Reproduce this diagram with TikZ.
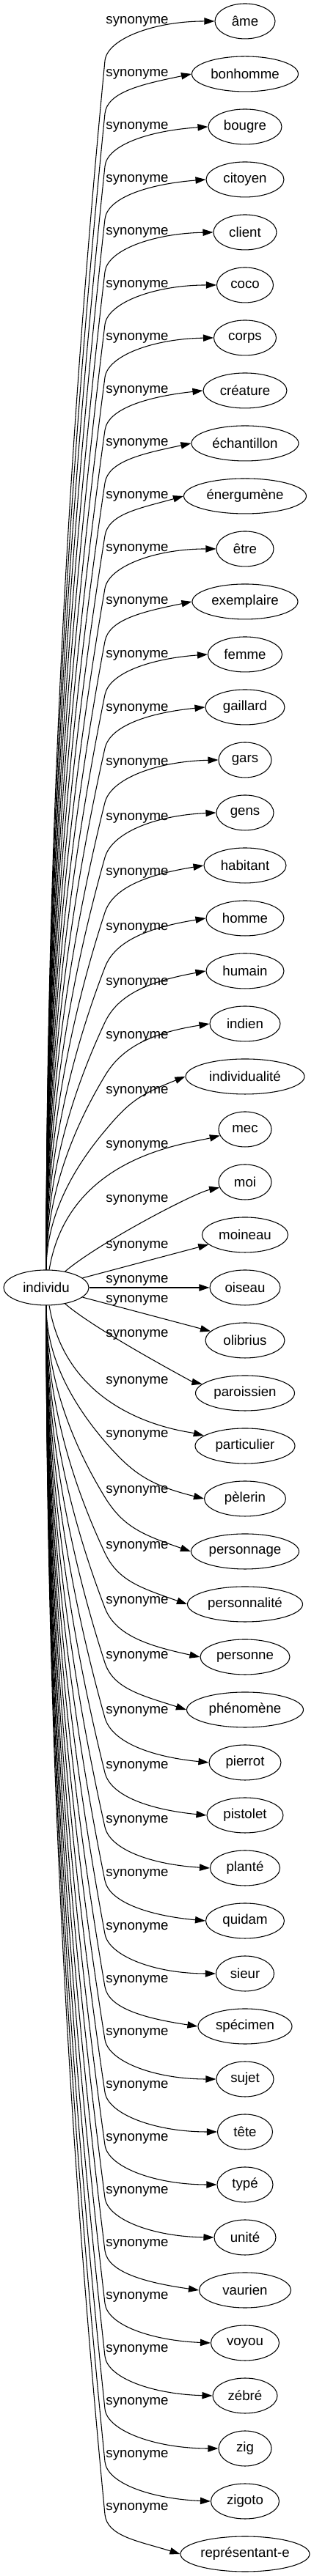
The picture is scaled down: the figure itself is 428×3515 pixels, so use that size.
\documentclass[tikz,border=0pt]{standalone}
\usepackage{fontspec}
\setmainfont{Liberation Sans}
\usetikzlibrary{arrows.meta,shapes.geometric}
\begin{document}
\begin{tikzpicture}[x=0.75pt, y=0.75pt]
      %% Styles for the words and the links
      \tikzset
      {
      word/.style={ellipse, draw, line width=0.8pt, inner sep=0pt, minimum height=36pt, font=\fontsize{14}{16}\selectfont},
      lbl/.style={inner sep=0pt, font=\fontsize{14}{16}\selectfont},
      syn/.style={line width=0.8pt, -{Triangle[length=10.5pt, width=7pt]}},
      }
      \useasboundingbox (0,0) rectangle (428,3515);
      %% Centre word
      \node[word, minimum width=87pt] (ind) at (63,1758) {individu};
      %% Synonyms
      \node[word, minimum width=61.5pt] (w0) at (334,3486) {âme};
      \node[word, minimum width=108.75pt] (w1) at (334,3414) {bonhomme};
      \node[word, minimum width=75pt] (w2) at (334,3342) {bougre};
      \node[word, minimum width=79.5pt] (w3) at (334,3270) {citoyen};
      \node[word, minimum width=64.5pt] (w4) at (334,3198) {client};
      \node[word, minimum width=57.75pt] (w5) at (334,3126) {coco};
      \node[word, minimum width=63.75pt] (w6) at (334,3054) {corps};
      \node[word, minimum width=85.5pt] (w7) at (334,2982) {créature};
      \node[word, minimum width=109.5pt] (w8) at (334,2910) {échantillon};
      \node[word, minimum width=125.25pt] (w9) at (334,2838) {énergumène};
      \node[word, minimum width=58.5pt] (w10) at (334,2766) {être};
      \node[word, minimum width=108pt] (w11) at (334,2694) {exemplaire};
      \node[word, minimum width=75.75pt] (w12) at (334,2622) {femme};
      \node[word, minimum width=81pt] (w13) at (334,2550) {gaillard};
      \node[word, minimum width=54pt] (w14) at (334,2478) {gars};
      \node[word, minimum width=58.5pt] (w15) at (334,2406) {gens};
      \node[word, minimum width=84pt] (w16) at (334,2334) {habitant};
      \node[word, minimum width=79.5pt] (w17) at (334,2262) {homme};
      \node[word, minimum width=79.5pt] (w18) at (334,2190) {humain};
      \node[word, minimum width=72pt] (w19) at (334,2118) {indien};
      \node[word, minimum width=121.5pt] (w20) at (334,2046) {individualité};
      \node[word, minimum width=54pt] (w21) at (334,1974) {mec};
      \node[word, minimum width=54pt] (w22) at (334,1902) {moi};
      \node[word, minimum width=87.75pt] (w23) at (334,1830) {moineau};
      \node[word, minimum width=72pt] (w24) at (334,1758) {oiseau};
      \node[word, minimum width=81pt] (w25) at (334,1686) {olibrius};
      \node[word, minimum width=101.25pt] (w26) at (334,1614) {paroissien};
      \node[word, minimum width=102pt] (w27) at (334,1542) {particulier};
      \node[word, minimum width=83.25pt] (w28) at (334,1470) {pèlerin};
      \node[word, minimum width=110.25pt] (w29) at (334,1398) {personnage};
      \node[word, minimum width=117.75pt] (w30) at (334,1326) {personnalité};
      \node[word, minimum width=91.5pt] (w31) at (334,1254) {personne};
      \node[word, minimum width=119.25pt] (w32) at (334,1182) {phénomène};
      \node[word, minimum width=73.5pt] (w33) at (334,1110) {pierrot};
      \node[word, minimum width=78pt] (w34) at (334,1038) {pistolet};
      \node[word, minimum width=71.25pt] (w35) at (334,966) {planté};
      \node[word, minimum width=80.25pt] (w36) at (334,894) {quidam};
      \node[word, minimum width=59.25pt] (w37) at (334,822) {sieur};
      \node[word, minimum width=96pt] (w38) at (334,750) {spécimen};
      \node[word, minimum width=58.5pt] (w39) at (334,678) {sujet};
      \node[word, minimum width=56.25pt] (w40) at (334,606) {tête};
      \node[word, minimum width=57pt] (w41) at (334,534) {typé};
      \node[word, minimum width=63pt] (w42) at (334,462) {unité};
      \node[word, minimum width=93.75pt] (w43) at (334,390) {vaurien};
      \node[word, minimum width=69.75pt] (w44) at (334,318) {voyou};
      \node[word, minimum width=66pt] (w45) at (334,246) {zébré};
      \node[word, minimum width=54pt] (w46) at (334,174) {zig};
      \node[word, minimum width=69.75pt] (w47) at (334,102) {zigoto};
      \node[word, minimum width=132pt] (w48) at (334,30) {représentant-e};
      %% Edge labels
      \node[lbl] (l0) at (187,3486) {synonyme};
      \node[lbl] (l1) at (187,3414) {synonyme};
      \node[lbl] (l2) at (187,3342) {synonyme};
      \node[lbl] (l3) at (187,3270) {synonyme};
      \node[lbl] (l4) at (187,3198) {synonyme};
      \node[lbl] (l5) at (187,3126) {synonyme};
      \node[lbl] (l6) at (187,3054) {synonyme};
      \node[lbl] (l7) at (187,2982) {synonyme};
      \node[lbl] (l8) at (187,2910) {synonyme};
      \node[lbl] (l9) at (187,2838) {synonyme};
      \node[lbl] (l10) at (187,2766) {synonyme};
      \node[lbl] (l11) at (187,2694) {synonyme};
      \node[lbl] (l12) at (187,2621) {synonyme};
      \node[lbl] (l13) at (187,2548) {synonyme};
      \node[lbl] (l14) at (187,2474) {synonyme};
      \node[lbl] (l15) at (187,2399) {synonyme};
      \node[lbl] (l16) at (187,2324) {synonyme};
      \node[lbl] (l17) at (187,2249) {synonyme};
      \node[lbl] (l18) at (187,2174) {synonyme};
      \node[lbl] (l19) at (187,2101) {synonyme};
      \node[lbl] (l20) at (187,2026) {synonyme};
      \node[lbl] (l21) at (187,1952) {synonyme};
      \node[lbl] (l22) at (187,1878) {synonyme};
      \node[lbl] (l23) at (187,1815) {synonyme};
      \node[lbl] (l24) at (187,1768) {synonyme};
      \node[lbl] (l25) at (187,1741) {synonyme};
      \node[lbl] (l26) at (187,1694) {synonyme};
      \node[lbl] (l27) at (187,1630) {synonyme};
      \node[lbl] (l28) at (187,1557) {synonyme};
      \node[lbl] (l29) at (187,1481) {synonyme};
      \node[lbl] (l30) at (187,1405) {synonyme};
      \node[lbl] (l31) at (187,1330) {synonyme};
      \node[lbl] (l32) at (187,1255) {synonyme};
      \node[lbl] (l33) at (187,1180) {synonyme};
      \node[lbl] (l34) at (187,1105) {synonyme};
      \node[lbl] (l35) at (187,1031) {synonyme};
      \node[lbl] (l36) at (187,958) {synonyme};
      \node[lbl] (l37) at (187,885) {synonyme};
      \node[lbl] (l38) at (187,813) {synonyme};
      \node[lbl] (l39) at (187,741) {synonyme};
      \node[lbl] (l40) at (187,669) {synonyme};
      \node[lbl] (l41) at (187,597) {synonyme};
      \node[lbl] (l42) at (187,525) {synonyme};
      \node[lbl] (l43) at (187,453) {synonyme};
      \node[lbl] (l44) at (187,381) {synonyme};
      \node[lbl] (l45) at (187,309) {synonyme};
      \node[lbl] (l46) at (187,237) {synonyme};
      \node[lbl] (l47) at (187,165) {synonyme};
      \node[lbl] (l48) at (187,93) {synonyme};
      %% Links going up
      \draw[syn] (ind) .. controls +(0,574) and +(-53,-550) .. (143,3432) .. controls +(3,30) and +(-82.5,0) .. (w0.west);
      \draw[syn] (ind) .. controls +(0,550) and +(-53,-526) .. (143,3360) .. controls +(3,30) and +(-65,-13.5) .. (w1.west);
      \draw[syn] (ind) .. controls +(0,526) and +(-53,-502) .. (143,3288) .. controls +(3,30) and +(-77.5,-5) .. (w2.west);
      \draw[syn] (ind) .. controls +(0,502) and +(-53,-478) .. (143,3216) .. controls +(3.3,30) and +(-76,-6) .. (w3.west);
      \draw[syn] (ind) .. controls +(0,478) and +(-53,-454) .. (143,3144) .. controls +(3.5,30) and +(-81.5,-1.6) .. (w4.west);
      \draw[syn] (ind) .. controls +(0,454) and +(-53,-430) .. (143,3072) .. controls +(3.7,30) and +(-84,0) .. (w5.west);
      \draw[syn] (ind) .. controls +(0,430) and +(-53,-406) .. (143,3000) .. controls +(3.9,30) and +(-81.5,-1.3) .. (w6.west);
      \draw[syn] (ind) .. controls +(0,406) and +(-53,-382) .. (143,2928) .. controls +(4.1,30) and +(-73.5,-8) .. (w7.west);
      \draw[syn] (ind) .. controls +(0,382) and +(-53,-358) .. (143,2856) .. controls +(4.4,30) and +(-65,-13.7) .. (w8.west);
      \draw[syn] (ind) .. controls +(0,358) and +(-53,-334) .. (143,2784) .. controls +(4.7,30) and +(-59,-16.6) .. (w9.west);
      \draw[syn] (ind) .. controls +(0,334) and +(-53,-310) .. (143,2712) .. controls +(5.1,30) and +(-83.5,0) .. (w10.west);
      \draw[syn] (ind) .. controls +(0,310) and +(-53,-286) .. (143,2640) .. controls +(5.5,30) and +(-65.5,-13.3) .. (w11.west);
      \draw[syn] (ind) .. controls +(0,286) and +(-53,-262) .. (143,2567) .. controls +(6,30) and +(-77,-5.6) .. (w12.west);
      \draw[syn] (ind) .. controls +(0,261) and +(-53,-237) .. (143,2494) .. controls +(7,31) and +(-75.5,-7.5) .. (w13.west);
      \draw[syn] (ind) .. controls +(0,237) and +(-53,-213) .. (143,2420) .. controls +(8,32) and +(-85,-2) .. (w14.west);
      \draw[syn] (ind) .. controls +(0,212) and +(-53,-188) .. (143,2345) .. controls +(9.5,33.5) and +(-83.5,-3.6) .. (w15.west);
      \draw[syn] (ind) .. controls +(0,187) and +(-53,-163) .. (143,2270) .. controls +(11.5,35) and +(-74,-12) .. (w16.west);
      \draw[syn] (ind) .. controls +(0,162) and +(-53,-138) .. (143,2195) .. controls +(14,37) and +(-76,-12.4) .. (w17.west);
      \draw[syn] (ind) .. controls +(0,137) and +(-53,-113) .. (143,2120) .. controls +(18,38.5) and +(-76,-13.8) .. (w18.west);
      \draw[syn] (ind) .. controls +(0,112) and +(-53,-88) .. (143,2047) .. controls +(23,39) and +(-78.5,-12.3) .. (w19.west);
      \draw[syn] (ind) .. controls +(0,87) and +(-53,-63) .. (143,1972) .. controls +(34,41) and +(-60.5,-24) .. (w20.west);
      %% Links near the middle
      \draw[syn] (ind) .. controls +(30,180) and +(-80,-20) .. (w21);
      \draw[syn] (ind) .. controls +(70,60) and +(-70,-15) .. (w22);
      \draw[syn] (ind) -- (w23);
      \draw[syn] (ind) -- (w24);
      \draw[syn] (ind) -- (w25);
      \draw[syn] (ind) .. controls +(70,-60) and +(-70,15) .. (w26);
      \draw[syn] (ind) .. controls +(30,-180) and +(-80,20) .. (w27);
      %% Links going down
      \draw[syn] (ind) .. controls +(0,-86) and +(-53,62) .. (143,1548) .. controls +(37,-43) and +(-74.5,18.6) .. (w28.west);
      \draw[syn] (ind) .. controls +(0,-111) and +(-53,87) .. (143,1472) .. controls +(25,-41) and +(-64.6,22.4) .. (w29.west);
      \draw[syn] (ind) .. controls +(0,-137) and +(-53,113) .. (143,1396) .. controls +(18,-38.5) and +(-62,22) .. (w30.west);
      \draw[syn] (ind) .. controls +(0,-162) and +(-53,138) .. (143,1321) .. controls +(14,-37) and +(-71.5,15.3) .. (w31.west);
      \draw[syn] (ind) .. controls +(0,-187) and +(-53,163) .. (143,1246) .. controls +(11.5,-35) and +(-61.3,19.6) .. (w32.west);
      \draw[syn] (ind) .. controls +(0,-212) and +(-53,188) .. (143,1171) .. controls +(9.5,-33.5) and +(-78,7.8) .. (w33.west);
      \draw[syn] (ind) .. controls +(0,-237) and +(-53,213) .. (143,1096) .. controls +(8,-32) and +(-76.5,7.6) .. (w34.west);
      \draw[syn] (ind) .. controls +(0,-261) and +(-53,237) .. (143,1022) .. controls +(7,-31) and +(-79,4.7) .. (w35.west);
      \draw[syn] (ind) .. controls +(0,-286) and +(-53,262) .. (143,949) .. controls +(6,-30) and +(-75.6,6.9) .. (w36.west);
      \draw[syn] (ind) .. controls +(0,-310) and +(-53,286) .. (143,876) .. controls +(5.5,-30) and +(-83.3,0) .. (w37.west);
      \draw[syn] (ind) .. controls +(0,-334) and +(-53,310) .. (143,804) .. controls +(5,-30) and +(-70,10.6) .. (w38.west);
      \draw[syn] (ind) .. controls +(0,-358) and +(-53,334) .. (143,732) .. controls +(4.7,-30) and +(-83.6,0) .. (w39.west);
      \draw[syn] (ind) .. controls +(0,-382) and +(-53,358) .. (143,660) .. controls +(4.4,-30) and +(-84.4,0) .. (w40.west);
      \draw[syn] (ind) .. controls +(0,-406) and +(-53,382) .. (143,588) .. controls +(4.1,-30) and +(-84.2,0) .. (w41.west);
      \draw[syn] (ind) .. controls +(0,-430) and +(-53,406) .. (143,516) .. controls +(3.9,-30) and +(-82,1) .. (w42.west);
      \draw[syn] (ind) .. controls +(0,-454) and +(-53,430) .. (143,444) .. controls +(3.7,-30) and +(-70.7,10) .. (w43.west);
      \draw[syn] (ind) .. controls +(0,-478) and +(-53,454) .. (143,372) .. controls +(3.5,-30) and +(-79.5,3.2) .. (w44.west);
      \draw[syn] (ind) .. controls +(0,-502) and +(-53,478) .. (143,300) .. controls +(3.3,-30) and +(-81,2) .. (w45.west);
      \draw[syn] (ind) .. controls +(0,-526) and +(-53,502) .. (143,228) .. controls +(3,-30) and +(-85.3,0) .. (w46.west);
      \draw[syn] (ind) .. controls +(0,-550) and +(-53,526) .. (143,156) .. controls +(3,-30) and +(-79.5,3.2) .. (w47.west);
      \draw[syn] (ind) .. controls +(0,-574) and +(-53,550) .. (143,84) .. controls +(3,-30) and +(-56.7,17.7) .. (w48.west);
\end{tikzpicture}
\end{document}
